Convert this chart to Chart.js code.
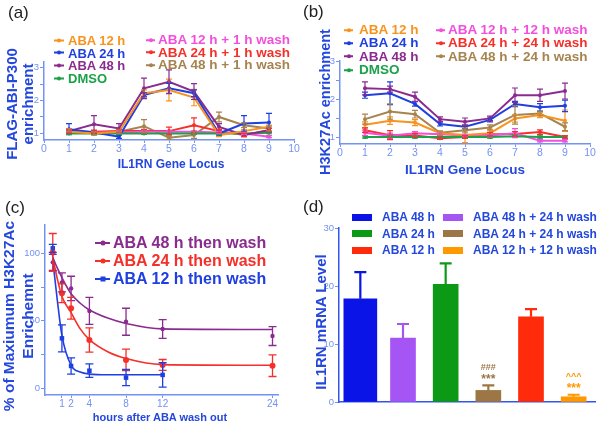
<!DOCTYPE html>
<html lang="en">
<head>
  <meta charset="UTF-8">
  <title>IL1RN ABA recruitment and wash-out</title>
  <script src="https://cdn.jsdelivr.net/npm/chart.js"></script>
  <style>
    body {
      margin: 0;
      background: #fff;
      font-family: "Liberation Sans", Arial, sans-serif;
    }
    #fig {
      position: relative;
      width: 600px;
      height: 424px;
      overflow: hidden;
    }
    #fig canvas {
      position: absolute;
    }
    .txt {
      position: absolute;
      white-space: nowrap;
      font-weight: bold;
      line-height: 1;
      color: #2447dc;
    }
    .rot { transform: translate(-50%, -50%) rotate(-90deg); text-align: center; }
    .mid { transform: translate(-50%, -50%); }
    .panel {
      position: absolute;
      font-size: 17px;
      line-height: 1;
      color: #222;
    }
    .leg {
      position: absolute;
      display: flex;
      align-items: center;
      white-space: nowrap;
      font-weight: bold;
      line-height: 1;
      transform: translateY(-50%);
    }
  </style>
</head>
<body>
  <div id="fig">
    <canvas id="ca" width="300" height="175" style="left:0;top:0"></canvas>
    <canvas id="cb" width="300" height="180" style="left:300px;top:0"></canvas>
    <canvas id="cc" width="300" height="214" style="left:0;top:210px"></canvas>
    <canvas id="cd" width="300" height="214" style="left:300px;top:210px"></canvas>

    <div class="panel" style="left:8px;top:4px">(a)</div>
    <div class="panel" style="left:303px;top:3px">(b)</div>
    <div class="panel" style="left:5px;top:199px">(c)</div>
    <div class="panel" style="left:303px;top:198px">(d)</div>

    <div class="txt rot" style="left:20px;top:104px;font-size:15px;line-height:16px">FLAG-ABI-P300<br>enrichment</div>
    <div class="txt mid" style="left:171px;top:164px;font-size:12px">IL1RN Gene Locus</div>
    <div class="txt rot" style="left:325px;top:102px;font-size:14.5px">H3K27Ac enrichment</div>
    <div class="txt mid" style="left:465px;top:170px;font-size:13.5px">IL1RN Gene Locus</div>
    <div class="txt rot" style="left:18px;top:316px;font-size:15.5px;line-height:19px">% of Maxiumum H3K27Ac<br>Enrichemnt</div>
    <div class="txt mid" style="left:160px;top:417px;font-size:11px">hours after ABA wash out</div>
    <div class="txt rot" style="left:320px;top:322px;font-size:15px">IL1RN mRNA Level</div>
  </div>

  <script>
    // ---- (a) FLAG-ABI-P300 enrichment along the IL1RN locus ----
    const locus = [1, 2, 3, 4, 5, 6, 7, 8, 9];
    const locusTicks = [0, 1, 2, 3, 4, 5, 6, 7, 8, 9, 10];
    const enrichTicks = [1, 1.5, 2, 2.5, 3];

    const aLabels = ['ABA 12 h', 'ABA 24 h', 'ABA 48 h', 'DMSO',
                     'ABA 12 h + 1 h wash', 'ABA 24 h + 1 h wash', 'ABA 48 h + 1 h wash'];
    const a12 = [1.05, 1.0, 1.05, 2.22, 2.32, 2.09, 0.95, 1.07, 1.2];
    const a12Err = [0.05, 0.04, 0.05, 0.1, 0.33, 0.25, 0.05, 0.05, 0.05];
    const a24 = [1.13, 1.03, 0.9, 2.17, 2.37, 2.22, 1.0, 1.3, 1.33];
    const a24Err = [0.17, 0.05, 0.05, 0.06, 0.15, 0.1, 0.05, 0.24, 0.28];
    const a48 = [1.07, 1.28, 1.15, 2.37, 2.57, 2.27, 1.2, 0.95, 1.1];
    const a48Err = [0.05, 0.26, 0.15, 0.31, 0.36, 0.24, 0.1, 0.05, 0.06];
    const aDmso = [1.0, 1.0, 1.0, 1.0, 1.0, 1.0, 1.0, 1.0, 1.02];
    const aDmsoErr = [0.03, 0.03, 0.03, 0.03, 0.03, 0.03, 0.03, 0.03, 0.03];
    const a12w = [1.08, 1.02, 1.03, 1.05, 1.05, 1.05, 1.03, 1.0, 0.9];
    const a12wErr = [0.03, 0.03, 0.03, 0.03, 0.03, 0.03, 0.03, 0.03, 0.03];
    const a24w = [1.05, 1.05, 1.07, 1.07, 1.07, 1.25, 1.07, 0.95, 1.1];
    const a24wErr = [0.05, 0.05, 0.05, 0.05, 0.12, 0.22, 0.05, 0.05, 0.05];
    const a48w = [1.1, 1.0, 1.05, 1.22, 0.87, 0.95, 1.5, 1.25, 1.15];
    const a48wErr = [0.05, 0.05, 0.05, 0.2, 0.05, 0.1, 0.15, 0.07, 0.07];

    // ---- (b) H3K27Ac enrichment ----
    const bLabels = ['ABA 12 h', 'ABA 24 h', 'ABA 48 h', 'DMSO',
                     'ABA 12 h + 12 h wash', 'ABA 24 h + 24 h wash', 'ABA 48 h + 24 h wash'];
    const b12 = [1.32, 1.43, 1.38, 1.1, 1.05, 1.1, 1.49, 1.58, 1.43];
    const b12Err = [0.08, 0.1, 0.08, 0.04, 0.2, 0.1, 0.1, 0.07, 0.28];
    const b24 = [2.1, 2.15, 1.87, 1.34, 1.27, 1.45, 1.87, 1.78, 1.82];
    const b24Err = [0.08, 0.3, 0.06, 0.05, 0.05, 0.05, 0.07, 0.1, 0.15];
    const b48 = [2.28, 2.26, 2.06, 1.47, 1.4, 1.49, 2.1, 2.1, 2.21];
    const b48Err = [0.17, 0.08, 0.12, 0.06, 0.1, 0.06, 0.19, 0.16, 0.21];
    const bDmso = [1.0, 1.0, 1.0, 1.0, 1.0, 1.0, 1.02, 1.0, 1.0];
    const bDmsoErr = [0.03, 0.03, 0.03, 0.03, 0.03, 0.03, 0.03, 0.03, 0.03];
    const b12w = [1.11, 1.03, 1.1, 1.07, 1.04, 1.04, 1.1, 0.9, 0.9];
    const b12wErr = [0.07, 0.07, 0.04, 0.03, 0.03, 0.03, 0.12, 0.03, 0.03];
    const b24w = [1.18, 1.05, 1.04, 0.97, 1.0, 1.07, 1.08, 1.13, 1.0];
    const b24wErr = [0.06, 0.12, 0.05, 0.03, 0.03, 0.05, 0.06, 0.06, 0.03];
    const b48w = [1.47, 1.67, 1.6, 1.11, 1.18, 1.25, 1.58, 1.62, 1.27];
    const b48wErr = [0.13, 0.2, 0.1, 0.05, 0.05, 0.07, 0.24, 0.06, 0.1];

    // ---- (c) % of maximum H3K27Ac after wash-out ----
    const cLabels = ['ABA 48 h then wash', 'ABA 24 h then wash', 'ABA 12 h then wash'];
    const hours = [0, 1, 2, 4, 8, 12, 24];
    const hourTicks = [1, 2, 4, 8, 12, 24];
    const pctTicks = [0, 25, 50, 75, 100];
    const c48 = [93.3, 78.5, 74, 57.3, 49.3, 43.9, 38.7];
    const c48Err = [6, 7, 9, 10, 10, 7, 7];
    const c24 = [100.7, 70.4, 59.3, 35.8, 21, 17.3, 16.7];
    const c24Err = [14, 7, 8, 9, 8, 4, 8];
    const c12 = [103.7, 37, 16.5, 13, 7.9, 9.9]; // measured up to 12 h
    const c12Err = [3, 10, 6, 5, 6, 9];
    // fitted decay curves
    const fitHours = [0, 0.5, 1, 2, 3, 4, 6, 8, 12, 24];
    const fit48 = [97, 89, 82, 70, 63, 58, 52, 48, 44, 43.5];
    const fit24 = [97, 81, 68, 56, 44, 36, 27, 22, 17.5, 17];
    const fit12 = [95, 65, 39, 17, 12, 10.5, 10, 10, 10];

    // ---- (d) IL1RN mRNA ----
    const dLabels = ['ABA 48 h', 'ABA 48 h + 24 h wash', 'ABA 24 h',
                     'ABA 24 h + 24 h wash', 'ABA 12 h', 'ABA 12 h + 12 h wash'];
    const dValues = [17.8, 11.0, 20.3, 2.0, 14.7, 0.9];
    const dErr = [4.6, 2.45, 3.6, 0.85, 1.3, 0.35];
    const dMarkTop = ['', '', '', '###', '', '^^^'];
    const dMarkStar = ['', '', '', '***', '', '***'];
    const mrnaTicks = [0, 10, 20, 30];

    // ---- styling ----
    const FONT = '"Liberation Sans", Arial, sans-serif';
    const axisBlue = '#7392f3';
    const titleBlue = '#2447dc';
    const lineColors = ['#f7931e', '#1f3fe0', '#8a2b8f', '#1aa14a', '#f44fdc', '#f5302a', '#a6834f'];
    const cColors = ['#8a2b8f', '#f5302a', '#1f3fe0'];
    const barColors = ['#0a14e6', '#a455f3', '#0c9a16', '#9d7645', '#ff2b0a', '#ff9900'];
    const wideBar = 0; // the first bar is drawn wider in the original

    // error bars drawn through the chart's own scales
    const errorBars = {
      id: 'errorBars',
      afterDatasetsDraw(chart) {
        const ctx = chart.ctx;
        chart.data.datasets.forEach((ds, i) => {
          if (!ds.errors) return;
          const meta = chart.getDatasetMeta(i);
          const yScale = chart.scales[meta.yAxisID];
          ctx.save();
          ctx.lineWidth = ds.errWidth || 1.2;
          meta.data.forEach((el, j) => {
            const raw = ds.data[j];
            const e = ds.errors[j];
            if (raw == null || e == null) return;
            const v = typeof raw === 'object' ? raw.y : raw;
            const top = yScale.getPixelForValue(v + e);
            const bot = ds.errUp ? el.y : yScale.getPixelForValue(v - e);
            const cap = ds.capWidth || 3;
            ctx.strokeStyle = ds.errColor ? ds.errColor[j] : ds.borderColor;
            ctx.beginPath();
            ctx.moveTo(el.x, top);
            ctx.lineTo(el.x, bot);
            ctx.moveTo(el.x - cap, top);
            ctx.lineTo(el.x + cap, top);
            if (!ds.errUp) {
              ctx.moveTo(el.x - cap, bot);
              ctx.lineTo(el.x + cap, bot);
            }
            ctx.stroke();
          });
          ctx.restore();
        });
      }
    };

    // significance marks above the wash bars in (d)
    const sigMarks = {
      id: 'sigMarks',
      afterDatasetsDraw(chart) {
        const ctx = chart.ctx;
        const x = chart.scales.x, y = chart.scales.y;
        ctx.save();
        ctx.textAlign = 'center';
        ctx.textBaseline = 'middle';
        dValues.forEach((v, i) => {
          if (!dMarkStar[i]) return;
          const px = x.getPixelForValue(i);
          const top = y.getPixelForValue(v + dErr[i]);
          ctx.fillStyle = barColors[i];
          ctx.font = 'bold 12px ' + FONT;
          ctx.fillText(dMarkStar[i], px, top - 6);
          ctx.font = 'bold 9px ' + FONT;
          ctx.fillText(dMarkTop[i], px, top - 18);
        });
        ctx.restore();
      }
    };

    function scale(o) {
      return {
        type: o.type || 'linear',
        min: o.min,
        max: o.max,
        afterBuildTicks: o.ticks ? s => { s.ticks = o.ticks.map(v => ({ value: v })); } : undefined,
        afterFit: s => {
          if (o.size == null) return;
          if (s.isHorizontal()) s.height = o.size; else s.width = o.size;
        },
        border: { display: true, color: o.line || axisBlue, width: 1.5 },
        grid: { drawOnChartArea: false, drawTicks: o.tickLen !== 0, tickLength: o.tickLen || 4, color: axisBlue },
        ticks: {
          display: o.showLabels !== false,
          color: axisBlue,
          font: { family: FONT, size: o.fs || 10 },
          padding: o.pad == null ? 1 : o.pad,
          autoSkip: false,
          maxRotation: 0,
          callback: o.label || (v => v)
        }
      };
    }

    const baseOptions = (padding, scales) => ({
      responsive: false,
      animation: false,
      layout: { padding },
      scales,
      plugins: { legend: { display: false }, tooltip: { enabled: false } }
    });

    function lineSet(label, xs, ys, errs, color, extra) {
      return Object.assign({
        label,
        data: xs.map((x, i) => ({ x, y: ys[i] })),
        errors: errs,
        borderColor: color,
        backgroundColor: color,
        borderWidth: 2,
        pointRadius: 2,
        pointBorderWidth: 0,
        pointHoverRadius: 2,
        tension: 0,
        fill: false
      }, extra || {});
    }

    function addLegend(x, y, dy, labels, colors, size, mk) {
      const fig = document.getElementById('fig');
      labels.forEach((lab, i) => {
        const row = document.createElement('div');
        row.className = 'leg';
        row.style.left = x + 'px';
        row.style.top = (y + i * dy) + 'px';
        row.style.fontSize = size + 'px';
        row.style.color = mk.textColor || colors[i];
        const m = document.createElement('span');
        m.style.cssText = `position:relative;display:inline-block;flex:none;width:${mk.w}px;height:${mk.h}px;background:${colors[i]};margin-right:${mk.gap}px`;
        if (mk.dot) {
          const d = document.createElement('span');
          const sq = mk.shapes && mk.shapes[i] === 'square';
          d.style.cssText = `position:absolute;left:50%;top:50%;width:${mk.dot}px;height:${mk.dot}px;border-radius:${sq ? 0 : 50}%;background:${colors[i]};transform:translate(-50%,-50%)`;
          m.appendChild(d);
        }
        row.appendChild(m);
        row.appendChild(document.createTextNode(lab));
        fig.appendChild(row);
      });
    }

    const intLabel = v => Number.isInteger(v) ? v : '';

    // (a)
    const aSeries = [[a12, a12Err], [a24, a24Err], [a48, a48Err], [aDmso, aDmsoErr],
                     [a12w, a12wErr], [a24w, a24wErr], [a48w, a48wErr]];
    new Chart('ca', {
      type: 'line',
      data: { datasets: aSeries.map((s, i) => lineSet(aLabels[i], locus, s[0], s[1], lineColors[i])) },
      options: baseOptions({ left: 0, right: 6, top: 62, bottom: 15 }, {
        x: scale({ min: 0, max: 10, ticks: locusTicks, size: 20, fs: 10.5, pad: 0, tickLen: 3 }),
        y: scale({ min: 0.8, max: 3.17, ticks: enrichTicks, size: 44, fs: 9.5, label: intLabel })
      }),
      plugins: [errorBars]
    });

    // (b)
    const bSeries = [[b12, b12Err], [b24, b24Err], [b48, b48Err], [bDmso, bDmsoErr],
                     [b12w, b12wErr], [b24w, b24wErr], [b48w, b48wErr]];
    new Chart('cb', {
      type: 'line',
      data: { datasets: bSeries.map((s, i) => lineSet(bLabels[i], locus, s[0], s[1], lineColors[i])) },
      options: baseOptions({ left: 0, right: 10, top: 61, bottom: 16 }, {
        x: scale({ min: 0, max: 10, ticks: locusTicks, size: 20, fs: 10.5, pad: 0, tickLen: 3 }),
        y: scale({ min: 0.816, max: 3.0, ticks: enrichTicks, size: 40, fs: 9.5, label: intLabel })
      }),
      plugins: [errorBars]
    });

    // (c)
    const cPoints = [[c48, c48Err], [c24, c24Err], [c12, c12Err]];
    const cFits = [fit48, fit24, fit12];
    const cShapes = ['circle', 'circle', 'rect'];
    const cSizes = [2.2, 3, 3.2];
    const cDatasets = [];
    cFits.forEach((f, i) => {
      cDatasets.push(lineSet(cLabels[i] + ' fit', fitHours, f, null, cColors[i], {
        borderWidth: 1.6, pointRadius: 0, cubicInterpolationMode: 'monotone'
      }));
    });
    cPoints.forEach((p, i) => {
      cDatasets.push(lineSet(cLabels[i], hours, p[0], p[1], cColors[i], {
        showLine: false, pointStyle: cShapes[i], pointRadius: cSizes[i], errWidth: 1.3, capWidth: 4
      }));
    });
    new Chart('cc', {
      type: 'line',
      data: { datasets: cDatasets },
      options: baseOptions({ left: 0, right: 22, top: 15, bottom: 11 }, {
        x: scale({ min: -0.85, max: 24.6, ticks: hourTicks, size: 18, fs: 10, pad: 0, tickLen: 3 }),
        y: scale({ min: -5, max: 121, ticks: pctTicks, size: 45, fs: 9.5, label: v => v % 50 === 0 ? v : '' })
      }),
      plugins: [errorBars]
    });

    // (d)
    new Chart('cd', {
      type: 'bar',
      data: {
        labels: dLabels,
        datasets: [
          {
            data: dValues.map((v, i) => i === wideBar ? v : null),
            errors: dErr.map((e, i) => i === wideBar ? e : null),
            backgroundColor: barColors, errColor: barColors,
            barThickness: 33, grouped: false, errUp: true, capWidth: 6, errWidth: 2.2
          },
          {
            data: dValues.map((v, i) => i === wideBar ? null : v),
            errors: dErr.map((e, i) => i === wideBar ? null : e),
            backgroundColor: barColors, errColor: barColors,
            barThickness: 25, grouped: false, errUp: true, capWidth: 6, errWidth: 2.2
          }
        ]
      },
      options: baseOptions({ left: 0, right: 5, top: 18, bottom: 20 }, {
        x: Object.assign(scale({ type: 'category', size: 2, showLabels: false, tickLen: 0, line: '#3355ee' }), { offset: true }),
        y: scale({ min: 0, max: 30, ticks: mrnaTicks, size: 39, fs: 9.5, line: '#3355ee' })
      }),
      plugins: [errorBars, sigMarks]
    });

    // legends
    addLegend(54, 40, 12.7, aLabels.slice(0, 4), lineColors.slice(0, 4), 13, { w: 10, h: 2, gap: 4, dot: 4 });
    addLegend(146, 40, 12.7, aLabels.slice(4), lineColors.slice(4), 13.5, { w: 9, h: 2, gap: 3, dot: 4 });
    addLegend(344, 30, 13.3, bLabels.slice(0, 4), lineColors.slice(0, 4), 13.5, { w: 9, h: 2, gap: 6, dot: 4 });
    addLegend(436, 30, 13.3, bLabels.slice(4), lineColors.slice(4), 13.5, { w: 9, h: 2, gap: 3, dot: 4 });
    addLegend(95, 243, 18, cLabels, cColors, 16, { w: 15, h: 1.6, gap: 3, dot: 5, shapes: ['circle', 'circle', 'square'] });
    addLegend(352, 217, 16.7, [0, 2, 4].map(i => dLabels[i]), [0, 2, 4].map(i => barColors[i]), 12,
      { w: 20, h: 7, gap: 10, textColor: titleBlue });
    addLegend(443, 217, 16.7, [1, 3, 5].map(i => dLabels[i]), [1, 3, 5].map(i => barColors[i]), 12,
      { w: 20, h: 7, gap: 10, textColor: titleBlue });
  </script>
</body>
</html>
